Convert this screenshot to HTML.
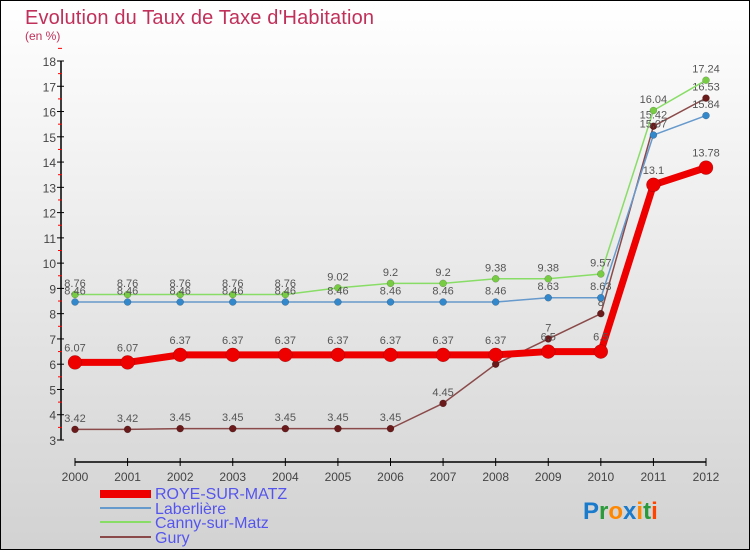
<!DOCTYPE html>
<html><head><meta charset="utf-8"><style>
body{margin:0}
#c{width:750px;height:550px;position:relative;box-sizing:border-box;border:1px solid #000;background:linear-gradient(#ffffff,#d2d2d2);font-family:"Liberation Sans",sans-serif;overflow:hidden}
</style></head><body>
<div id="c">
<svg id="s" width="750" height="550" style="position:absolute;left:-1px;top:-1px">
<text x="25" y="24" font-size="20" fill="#c0305a" textLength="349">Evolution du Taux de Taxe d'Habitation</text>
<text x="25" y="40" font-size="12" fill="#c0305a">(en %)</text>
<g id="axes"></g><g id="series"></g>
<g font-size="16" fill="#5555ee">
<rect x="100" y="490" width="51" height="8" fill="#ee0000"/>
<text x="155" y="499">ROYE-SUR-MATZ</text>
<line x1="100" y1="508" x2="151" y2="508" stroke="#6699cc" stroke-width="2"/>
<text x="155" y="514">Laberlière</text>
<line x1="100" y1="522" x2="151" y2="522" stroke="#88dd66" stroke-width="2"/>
<text x="155" y="528">Canny-sur-Matz</text>
<line x1="100" y1="537" x2="151" y2="537" stroke="#8b4a4a" stroke-width="2"/>
<text x="155" y="543">Gury</text>
</g>
<text x="583" y="519" font-size="24" font-weight="bold"><tspan fill="#1a7acc">P</tspan><tspan fill="#2a9a3a">r</tspan><tspan fill="#ff8800">o</tspan><tspan fill="#1a7acc">x</tspan><tspan fill="#ff8800">i</tspan><tspan fill="#2a9a3a">t</tspan><tspan fill="#ff4400">i</tspan></text>
</svg>
</div>
<script>
const years=[2000,2001,2002,2003,2004,2005,2006,2007,2008,2009,2010,2011,2012];
const yTicks=[3,4,5,6,7,8,9,10,11,12,13,14,15,16,17,18];
const roye=[6.07,6.07,6.37,6.37,6.37,6.37,6.37,6.37,6.37,6.5,6.5,13.1,13.78];
const laberliere=[8.46,8.46,8.46,8.46,8.46,8.46,8.46,8.46,8.46,8.63,8.63,15.07,15.84];
const canny=[8.76,8.76,8.76,8.76,8.76,9.02,9.2,9.2,9.38,9.38,9.57,16.04,17.24];
const gury=[3.42,3.42,3.45,3.45,3.45,3.45,3.45,4.45,6,7,8,15.42,16.53];
const NS="http://www.w3.org/2000/svg";
const X=i=>75+i*(706-75)/(years.length-1);
const Y=v=>440-(v-3)*(440-61)/15;
function mk(t,a,p){const e=document.createElementNS(NS,t);for(const k in a)e.setAttribute(k,a[k]);p.appendChild(e);return e;}
const ax=document.getElementById('axes');
const yl=mk('line',{x1:61,y1:Y(18),x2:61,y2:Y(3),stroke:'#000','stroke-width':1.5},ax);


yTicks.forEach(v=>{
 const t=mk('line',{x1:57,x2:64,y1:Y(v),y2:Y(v),stroke:'#000'},ax);
 
 
 const m=mk('line',{x1:58,x2:62,y1:Y(v+0.5),y2:Y(v+0.5),stroke:'#f00'},ax);
 
 
 const l=mk('text',{x:56,y:Y(v)+5,'text-anchor':'end','font-size':12,fill:'#444'},ax);
 
 
 l.textContent=v;
});
const xl=mk('line',{x1:75,x2:706,y1:462,y2:462,stroke:'#000','stroke-width':1.5},ax);


years.forEach((y,i)=>{
 const t=mk('line',{x1:X(i),x2:X(i),y1:458,y2:466,stroke:'#000'},ax);
 
 
 const l=mk('text',{x:X(i),y:481,'text-anchor':'middle','font-size':12,fill:'#444'},ax);
 
 
 l.textContent=y;
});
const sg=document.getElementById('series');
function draw(vals,name,color,w,r,dot){
 const g=mk('g',{},sg);
 
 
 const p=mk('polyline',{points:vals.map((v,i)=>X(i)+','+Y(v)).join(' '),fill:'none',stroke:color,'stroke-width':w,'stroke-linejoin':'round'},g);
 
 
 vals.forEach((v,i)=>{
  const c=mk('circle',{cx:X(i),cy:Y(v),r:r,fill:dot,stroke:'rgba(0,0,0,0.3)','stroke-width':0.5},g);
  
  
  const t=mk('text',{x:X(i),y:Y(v)-r-4,'text-anchor':'middle','font-size':11,fill:'#555'},g);
  
  
  t.textContent=v;
 });
}
draw(gury,'gury','#8b4a4a',1.5,3.5,'#6a1a1a');
draw(canny,'canny','#88dd66',1.5,3.5,'#77cc44');
draw(laberliere,'laberliere','#6699cc',1.5,3.5,'#3388cc');
draw(roye,'roye','#ee0000',7,7,'#ee0000');
</script>
</body></html>
